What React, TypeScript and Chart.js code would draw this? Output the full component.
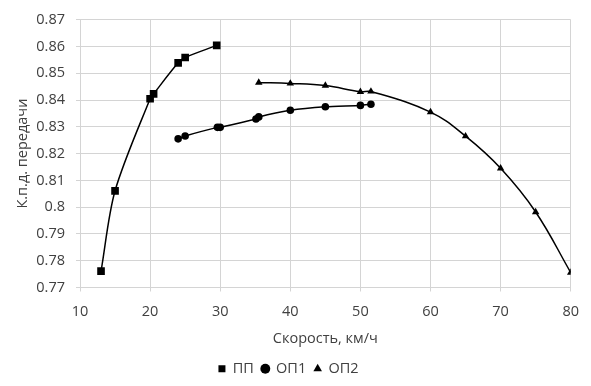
import React, { useEffect, useRef } from "react";
import { Chart, registerables } from "chart.js";

Chart.register(...registerables);

const ppX = [13, 15, 20, 20.5, 24, 25, 29.5];
const ppY = [0.7761, 0.8061, 0.8405, 0.8423, 0.8539, 0.8559, 0.8604];

const op1X = [24, 25, 29.6, 30, 35.1, 35.5, 40, 45, 50, 51.5];
const op1Y = [0.8255, 0.8266, 0.8298, 0.8298, 0.8329, 0.8337, 0.8362, 0.8375, 0.838, 0.8384];

const op2X = [35.5, 40, 45, 50, 51.5, 60, 65, 70, 75, 80];
const op2Y = [0.8465, 0.8462, 0.8454, 0.8431, 0.8432, 0.8355, 0.8265, 0.8145, 0.7982, 0.7756];

const seriesNames = ["ПП", "ОП1", "ОП2"];
const xTitle = "Скорость, км/ч";
const yTitle = "К.п.д. передачи";

const toPts = (xs: number[], ys: number[]) => xs.map((x, i) => ({ x, y: ys[i] }));

export default function App() {
  const ref = useRef<HTMLCanvasElement | null>(null);
  useEffect(() => {
    if (!ref.current) return;
    const font = { family: "'Open Sans', sans-serif", size: 14.5 };
    const txt = "#404040";
    const grid = "#d4d4d4";
    const common = {
      borderColor: "#000",
      backgroundColor: "#000",
      borderWidth: 1.5,
      pointBorderWidth: 0,
      pointBackgroundColor: "#000",
      showLine: true,
    };
    const chart = new Chart(ref.current, {
      type: "scatter",
      data: {
        datasets: [
          { ...common, tension: 0.3, label: seriesNames[0], data: toPts(ppX, ppY), pointStyle: "rect", pointRadius: 5.4 },
          { ...common, tension: 0.2, label: seriesNames[1], data: toPts(op1X, op1Y), pointStyle: "circle", pointRadius: 3.8 },
          { ...common, tension: 0.4, label: seriesNames[2], data: toPts(op2X, op2Y), pointStyle: "triangle", pointRadius: 4.3 },
        ],
      },
      options: {
        animation: false,
        responsive: false,
        layout: { padding: { top: 14, right: 14, left: 0, bottom: 0 } },
        plugins: {
          tooltip: { enabled: false },
          legend: {
            position: "bottom",
            labels: {
              usePointStyle: true,
              boxWidth: 7,
              boxHeight: 7,
              padding: 8,
              color: txt,
              font,
            },
          },
        },
        scales: {
          x: {
            type: "linear",
            min: 10,
            max: 80,
            ticks: { stepSize: 10, color: txt, font, padding: 12 },
            grid: { color: grid, tickLength: 4 },
            border: { color: grid },
            title: { display: true, text: xTitle, color: txt, font, padding: { top: 4, bottom: 6 } },
            afterFit: (s: any) => {
              s.height = 66;
            },
          },
          y: {
            type: "linear",
            min: 0.77,
            max: 0.87,
            ticks: {
              stepSize: 0.01,
              color: txt,
              font,
              padding: 11,
              callback: (v: any) => String(Number(Number(v).toFixed(2))),
            },
            grid: { color: grid, tickLength: 4 },
            border: { color: grid },
            title: { display: true, text: yTitle, color: txt, font, padding: { top: 14, bottom: 4 } },
            afterFit: (s: any) => {
              s.width = 80;
            },
          },
        },
      },
    });
    return () => chart.destroy();
  }, []);
  return (
    <canvas
      ref={ref}
      width={591}
      height={386}
      style={{ position: "absolute", left: 0, top: 0, width: 591, height: 386 }}
    />
  );
}
